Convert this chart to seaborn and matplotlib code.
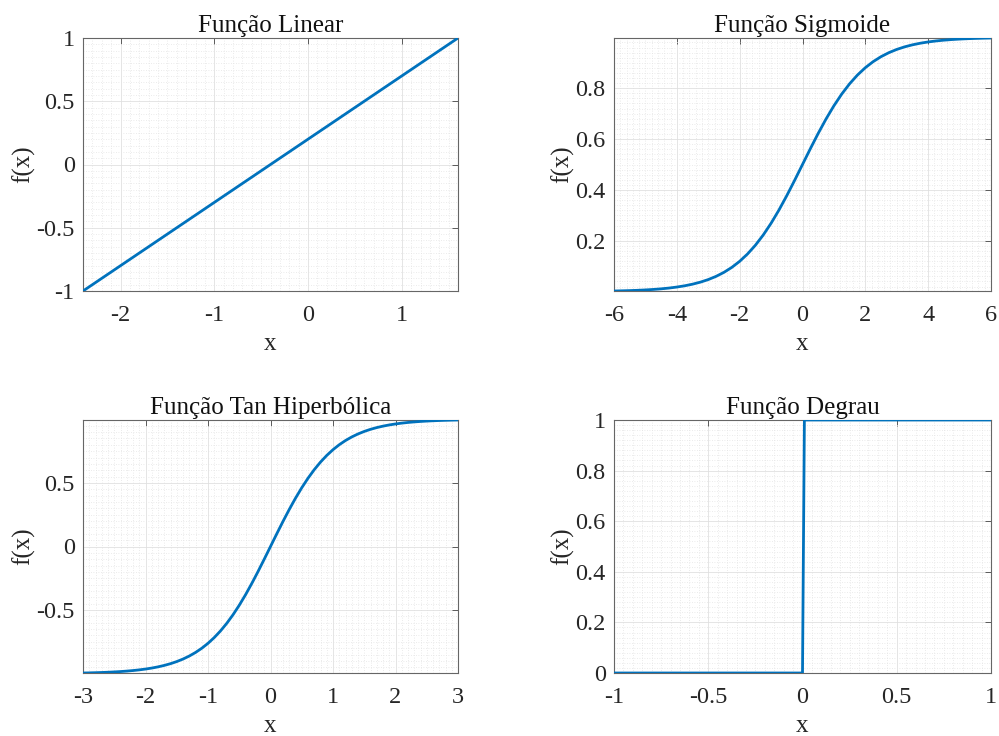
import matplotlib
matplotlib.use("Agg")
import matplotlib.pyplot as plt
from matplotlib.ticker import AutoMinorLocator, FuncFormatter, FixedLocator
import seaborn as sns
import pandas as pd

# ---- data ----
lin_x = [-2.4, 1.6]
lin_y = [-1.0, 1.0]

sig_x = [-6.0, -5.75, -5.5, -5.25, -5.0, -4.75, -4.5, -4.25, -4.0, -3.75, -3.5, -3.25,
         -3.0, -2.75, -2.5, -2.25, -2.0, -1.75, -1.5, -1.25, -1.0, -0.75, -0.5, -0.25,
         0.0, 0.25, 0.5, 0.75, 1.0, 1.25, 1.5, 1.75, 2.0, 2.25, 2.5, 2.75,
         3.0, 3.25, 3.5, 3.75, 4.0, 4.25, 4.5, 4.75, 5.0, 5.25, 5.5, 5.75, 6.0]
sig_y = [0.002473, 0.003173, 0.004070, 0.005220, 0.006693, 0.008578, 0.010987, 0.014064,
         0.017986, 0.022977, 0.029312, 0.037327, 0.047426, 0.060087, 0.075858, 0.095349,
         0.119203, 0.148047, 0.182426, 0.222700, 0.268941, 0.320821, 0.377541, 0.437823,
         0.500000, 0.562177, 0.622459, 0.679179, 0.731059, 0.777300, 0.817574, 0.851953,
         0.880797, 0.904651, 0.924142, 0.939913, 0.952574, 0.962673, 0.970688, 0.977023,
         0.982014, 0.985936, 0.989013, 0.991422, 0.993307, 0.994780, 0.995930, 0.996827,
         0.997527]

tanh_x = [-3.0, -2.9, -2.8, -2.7, -2.6, -2.5, -2.4, -2.3, -2.2, -2.1, -2.0, -1.9, -1.8,
          -1.7, -1.6, -1.5, -1.4, -1.3, -1.2, -1.1, -1.0, -0.9, -0.8, -0.7, -0.6, -0.5,
          -0.4, -0.3, -0.2, -0.1, 0.0, 0.1, 0.2, 0.3, 0.4, 0.5, 0.6, 0.7, 0.8, 0.9, 1.0,
          1.1, 1.2, 1.3, 1.4, 1.5, 1.6, 1.7, 1.8, 1.9, 2.0, 2.1, 2.2, 2.3, 2.4, 2.5, 2.6,
          2.7, 2.8, 2.9, 3.0]
tanh_y = [-0.995055, -0.993963, -0.992632, -0.991007, -0.989027, -0.986614, -0.983675,
          -0.980096, -0.975743, -0.970452, -0.964028, -0.956237, -0.946806, -0.935409,
          -0.921669, -0.905148, -0.885352, -0.861723, -0.833655, -0.800499, -0.761594,
          -0.716298, -0.664037, -0.604368, -0.537050, -0.462117, -0.379949, -0.291313,
          -0.197375, -0.099668, 0.0, 0.099668, 0.197375, 0.291313, 0.379949, 0.462117,
          0.537050, 0.604368, 0.664037, 0.716298, 0.761594, 0.800499, 0.833655, 0.861723,
          0.885352, 0.905148, 0.921669, 0.935409, 0.946806, 0.956237, 0.964028, 0.970452,
          0.975743, 0.980096, 0.983675, 0.986614, 0.989027, 0.991007, 0.992632, 0.993963,
          0.995055]

step_x = [-1.0, 0.0, 0.01, 1.0]
step_y = [0.0, 0.0, 1.0, 1.0]

titles = ["Função Linear", "Função Sigmoide", "Função Tan Hiperbólica", "Função Degrau"]
xticks_list = [[-2, -1, 0, 1], [-6, -4, -2, 0, 2, 4, 6], [-3, -2, -1, 0, 1, 2, 3], [-1, -0.5, 0, 0.5, 1]]
yticks_list = [[-1, -0.5, 0, 0.5, 1], [0.2, 0.4, 0.6, 0.8], [-0.5, 0, 0.5], [0, 0.2, 0.4, 0.6, 0.8, 1]]
xlims = [(-2.4, 1.6), (-6, 6), (-3, 3), (-1, 1)]
ylims = [(-1, 1), (0.002473, 0.997527), (-0.995055, 0.995055), (0, 1)]

sns.set_style("white")
plt.rcParams["font.family"] = ["Liberation Serif", "DejaVu Serif"]
plt.rcParams["axes.unicode_minus"] = False

LINE = "#0072BD"
W, H = 999, 736
fig = plt.figure(figsize=(W / 100, H / 100), dpi=100)

boxes = [(83, 38, 458, 291), (614, 38, 991, 291), (83, 420, 458, 673), (614, 420, 991, 673)]
series = [(lin_x, lin_y), (sig_x, sig_y), (tanh_x, tanh_y), (step_x, step_y)]

fmt = FuncFormatter(lambda v, _: f"{v:g}")

for i, (box, (xs, ys)) in enumerate(zip(boxes, series)):
    l, t, r, b = box
    ax = fig.add_axes([l / W, 1 - b / H, (r - l) / W, (b - t) / H])
    df = pd.DataFrame({"x": xs, "y": ys})
    sns.lineplot(data=df, x="x", y="y", ax=ax, color=LINE, linewidth=2.0,
                 estimator=None, sort=False, zorder=5)
    ax.set_xlim(*xlims[i])
    ax.set_ylim(*ylims[i])
    ax.xaxis.set_major_locator(FixedLocator(xticks_list[i]))
    ax.yaxis.set_major_locator(FixedLocator(yticks_list[i]))
    ax.xaxis.set_major_formatter(fmt)
    ax.yaxis.set_major_formatter(fmt)
    ax.xaxis.set_minor_locator(AutoMinorLocator(10))
    ax.yaxis.set_minor_locator(AutoMinorLocator(10))
    ax.grid(which="major", color="#e0e0e0", linewidth=0.6, linestyle="-", zorder=0)
    ax.grid(which="minor", color="#e4e4e4", linewidth=0.6, linestyle=(0, (1, 2)), zorder=0)
    ax.set_axisbelow(True)
    ax.tick_params(which="major", direction="in", length=4, width=0.6, color="#444444",
                   top=True, right=True, labelsize=17.5, labelcolor="#262626")
    ax.tick_params(axis="x", which="major", pad=10)
    ax.tick_params(axis="y", which="major", pad=6)
    ax.tick_params(which="minor", length=0)
    for sp in ax.spines.values():
        sp.set_visible(True)
        sp.set_color("#666666")
        sp.set_linewidth(0.8)
    ax.set_title(titles[i], fontsize=18, color="#111111", pad=4)
    ax.set_xlabel("x", fontsize=18, color="#262626", labelpad=5)
    ax.set_ylabel("f(x)", fontsize=18, color="#262626", labelpad=1)

fig.savefig("out.png", dpi=100)
